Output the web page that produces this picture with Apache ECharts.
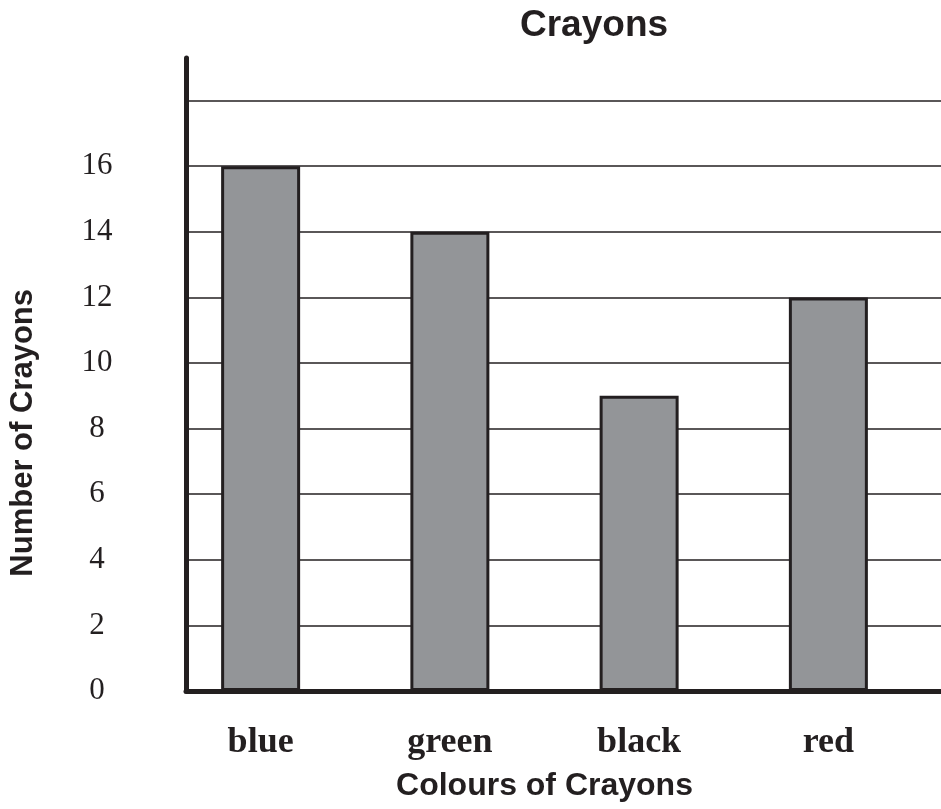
<!DOCTYPE html>
<html>
<head>
<meta charset="utf-8">
<script src="https://cdn.jsdelivr.net/npm/echarts@6/dist/echarts.min.js"></script>
<style>html,body{margin:0;padding:0;background:#fff}#c{width:941px;height:809px}</style>
</head>
<body>
<div id="c"></div>
<script>
var categories = ['blue', 'green', 'black', 'red'];
var counts = [16, 14, 9, 12];
var yTicks = [0, 2, 4, 6, 8, 10, 12, 14, 16];
var chartTitle = 'Crayons';
var xTitle = 'Colours of Crayons';
var yTitle = 'Number of Crayons';

var ink = '#231f20';
var chart = echarts.init(document.getElementById('c'));
chart.setOption({
  backgroundColor: '#fff',
  animation: false,
  title: {
    text: chartTitle, left: 515, top: 2,
    textStyle: { fontFamily: 'Liberation Sans', fontWeight: 'bold', fontSize: 37, color: ink }
  },
  graphic: [{
    type: 'text', left: 8, top: 289, rotation: Math.PI / 2,
    style: { text: yTitle, font: 'bold 31px "Liberation Sans"', fill: ink }
  }],
  grid: [
    { left: 186, right: 0, top: 58, bottom: 118 },
    { left: 166, right: 18, top: 58, bottom: 118 }
  ],
  xAxis: [
    { gridIndex: 0, type: 'category', data: categories,
      axisLine: { show: true, lineStyle: { color: ink, width: 5 } },
      axisTick: { show: false }, axisLabel: { show: false }, splitLine: { show: false } },
    { gridIndex: 1, type: 'category', data: categories,
      axisLine: { show: false }, axisTick: { show: false },
      axisLabel: { margin: 34, fontFamily: 'Liberation Serif', fontWeight: 'bold', fontSize: 36, color: ink },
      name: xTitle, nameLocation: 'middle', nameGap: 79,
      nameTextStyle: { fontFamily: 'Liberation Sans', fontWeight: 'bold', fontSize: 32, color: ink } }
  ],
  yAxis: [
    { gridIndex: 0, type: 'value', min: 0, max: 19.3, interval: 2,
      axisLine: { show: true, lineStyle: { color: ink, width: 5 } },
      axisTick: { show: false },
      axisLabel: { margin: 89, align: 'center', fontFamily: 'Liberation Serif', fontSize: 31, color: ink,
        showMaxLabel: false,
        formatter: function (v) { return yTicks.indexOf(v) >= 0 ? String(v) : ''; } },
      splitLine: { show: true, showMinLine: false, showMaxLine: false, lineStyle: { color: ink, width: 1.5 } } },
    { gridIndex: 1, type: 'value', min: 0, max: 19.3, interval: 2, show: false, splitLine: { show: false } }
  ],
  series: [{
    type: 'bar', xAxisIndex: 1, yAxisIndex: 1, data: counts, barWidth: 79, z: 5,
    itemStyle: { color: '#939598', borderColor: ink, borderWidth: 3 }
  }]
});
</script>
</body>
</html>
